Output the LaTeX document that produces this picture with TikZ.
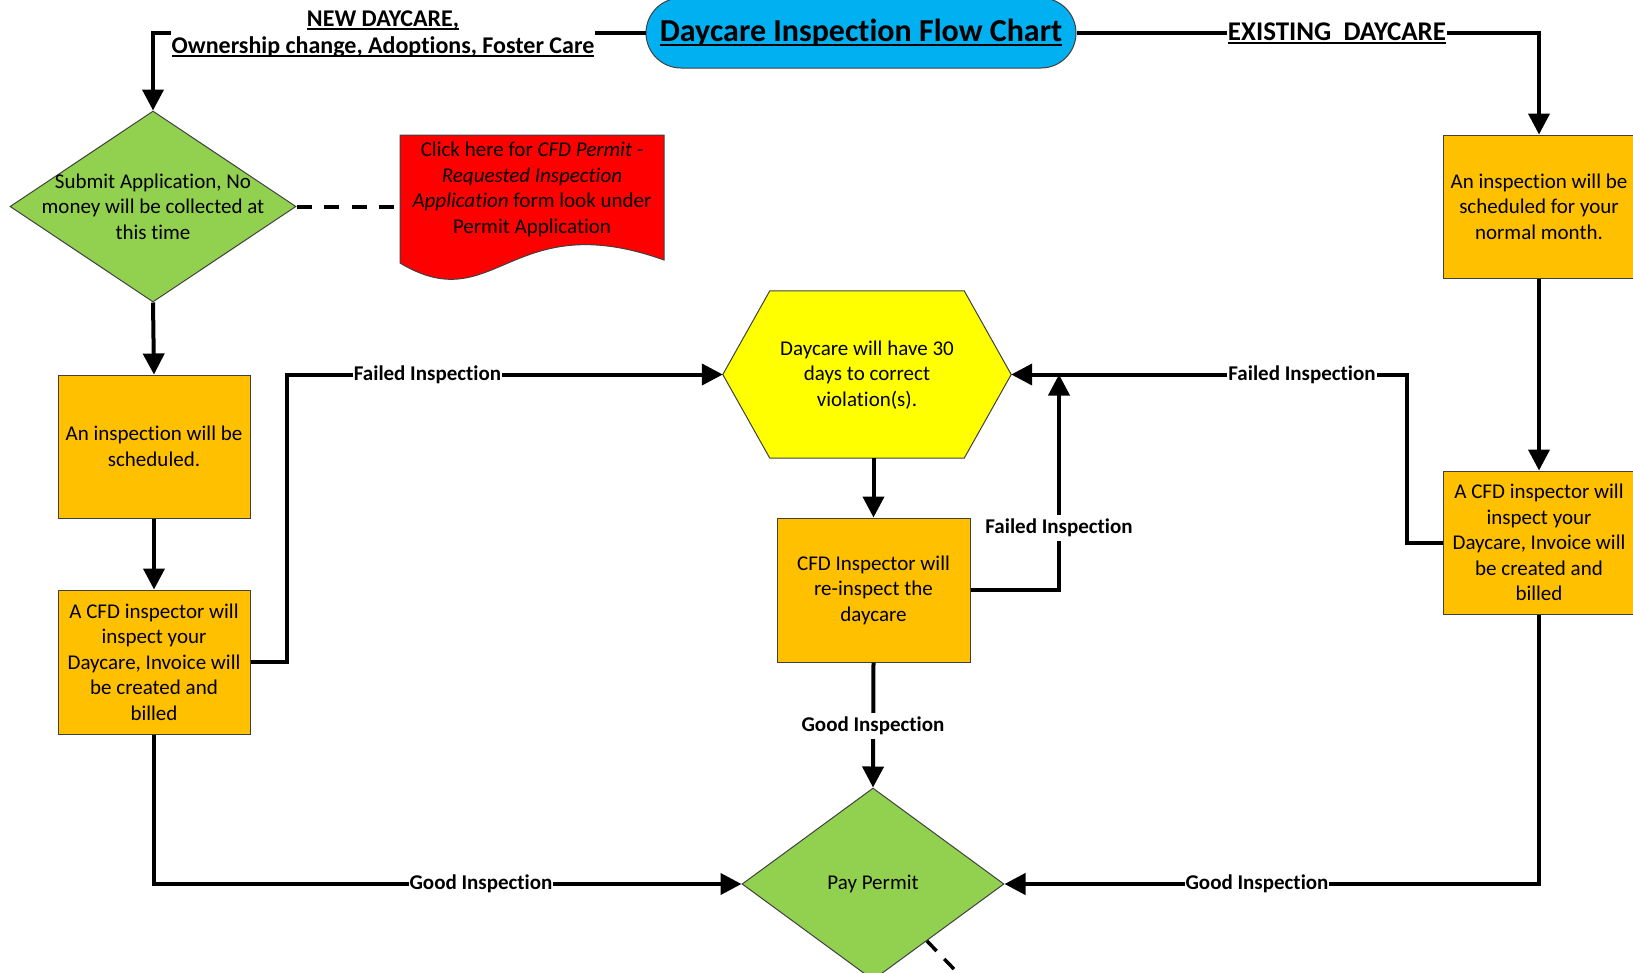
\documentclass[tikz,border=0pt]{standalone}
\usepackage{fontspec}
\setmainfont{Carlito}[Ligatures={NoCommon,NoContextual,NoRequired}]
\usetikzlibrary{arrows.meta,shapes.geometric,shapes.misc,calc}
\definecolor{cblue}{HTML}{00B0F0}
\definecolor{corange}{HTML}{FFC000}
\definecolor{cgreen}{HTML}{92D050}
\definecolor{cyellow}{HTML}{FFFF00}
\definecolor{cred}{HTML}{FF0000}
\newcommand{\thickul}[3]{\setbox0\hbox{#3}\rlap{\rule[-#1]{\wd0}{#2}}\box0}
\begin{document}
\begin{tikzpicture}[x=1pt,y=-1pt,
  shapeline/.style={draw=black!75, line width=1pt},
  box/.style={shapeline, fill=corange, minimum width=192pt, minimum height=143pt, align=center,
    font=\fontsize{21}{25.5}\selectfont, inner sep=0pt},
  conn/.style={line width=4pt, -{Triangle[length=21pt,width=21pt]}},
  dashline/.style={line width=4pt, dash pattern=on 15pt off 12.5pt},
  lbl/.style={fill=white, font=\fontsize{21}{25.5}\selectfont\bfseries, inner xsep=1pt, inner ysep=4pt},
  toplbl/.style={fill=white, align=center, font=\fontsize{24}{27}\selectfont\bfseries, inner xsep=1pt, inner ysep=2pt},
  txt/.style={align=center, font=\fontsize{21}{25.5}\selectfont, inner sep=0pt},
]
\useasboundingbox (0,0) rectangle (1633,972);

% ---------- shapes ----------
\node[rounded rectangle, shapeline, fill=cblue, minimum width=430pt, minimum height=70pt, inner sep=0pt,
  font=\fontsize{32}{38}\selectfont\bfseries] (title) at (861,33) {\raisebox{-3pt}{\thickul{4.5pt}{2.4pt}{Daycare Inspection Flow Chart}}};

\node[diamond, shapeline, fill=cgreen, minimum width=286pt, minimum height=191pt, inner sep=0pt] (d1) at (153,206.5) {};
\node[txt] (d1txt) at (d1.center) {Submit Application, No\\money will be collected at\\this time};

\node[minimum width=264pt, minimum height=128pt, inner sep=0pt] (doc) at (532,199) {};
\draw[shapeline, fill=cred] (400,135) -- (664,135) -- (664,260)
  .. controls (510,205) and (495,320) .. (400,263) -- cycle;
\node[txt] (doctxt) at (532,189.5) {Click here for \textit{CFD Permit -}\\\textit{Requested Inspection}\\\textit{Application} form look under\\Permit Application};

\node[box] (b1) at (154,446.5) {An inspection will be\\scheduled.};
\node[box, minimum height=144pt] (b2) at (154,662) {A CFD inspector will\\inspect your\\Daycare, Invoice will\\be created and\\billed};

\node[box] (r1) at (1539,206.5) {An inspection will be\\scheduled for your\\normal month.};
\node[box] (r2) at (1539,542.5) {A CFD inspector will\\inspect your\\Daycare, Invoice will\\be created and\\billed};

\node[minimum width=288pt, minimum height=167pt, inner sep=0pt] (hex) at (867,374.5) {};
\draw[shapeline, fill=cyellow] (hex.west) -- ($(hex.north west)+(47,0)$) -- ($(hex.north east)+(-47,0)$)
  -- (hex.east) -- ($(hex.south east)+(-47,0)$) -- ($(hex.south west)+(47,0)$) -- cycle;
\node[txt] (hextxt) at (867,375) {Daycare will have 30\\days to correct\\violation(s).};

\node[box, minimum width=193pt, minimum height=144pt] (re) at (873.5,590) {CFD Inspector will\\re-inspect the\\daycare};

\node[diamond, shapeline, fill=cgreen, minimum width=262pt, minimum height=192pt, inner sep=0pt] (pay) at (873,884) {};
\node[txt] (paytxt) at (pay.center) {Pay Permit};

% ---------- connectors ----------
\draw[conn] (title.west) -| (d1.north);
\node[toplbl] (lnew) at (383,34) {\thickul{3.5pt}{1.8pt}{NEW DAYCARE,}\\\thickul{3.5pt}{1.8pt}{Ownership change, Adoptions, Foster Care}};

\draw[conn] (title.east) -| (r1.north);
\node[toplbl, font=\fontsize{27}{30}\selectfont\bfseries] (lexist) at (1337,33) {\thickul{3.5pt}{1.8pt}{EXISTING\ \ DAYCARE}};

\draw[dashline] (d1.east) -- (d1.east -| doc.west);

\draw[conn] (d1.south) -- (b1.north);
\draw[conn] (b1.south) -- (b2.north);

\draw[conn] (b2.east) -- ++(36,0) |- (hex.west);
\node[lbl] (lf1) at (427.5,374.5) {Failed Inspection};

\draw[conn] (re.north |- hex.south) -- (re.north);

\coordinate (merge) at (1059,374.5);
\draw[conn] (re.east) -| (merge);
\node[lbl] (lf2) at (1059,528) {Failed Inspection};

\draw[conn] (r1.south) -- (r2.north);
\draw[conn] (r2.west) -- ++(-36,0) |- (hex.east);
\node[lbl] (lf3) at (1302,374.5) {Failed Inspection};

\draw[conn] (re.south) -- (pay.north);
\node[lbl] (lg1) at (873,726) {Good Inspection};

\draw[conn] (b2.south) |- (pay.west);
\node[lbl] (lg2) at (481,884) {Good Inspection};

\draw[conn] (r2.south) |- (pay.east);
\node[lbl] (lg3) at (1257,884) {Good Inspection};

\coordinate (payedge) at ($(pay.east)!0.59!(pay.south)$);
\draw[line width=3.5pt, dash pattern=on 14pt off 11pt] (payedge) -- ++(50,52);
\end{tikzpicture}
\end{document}
